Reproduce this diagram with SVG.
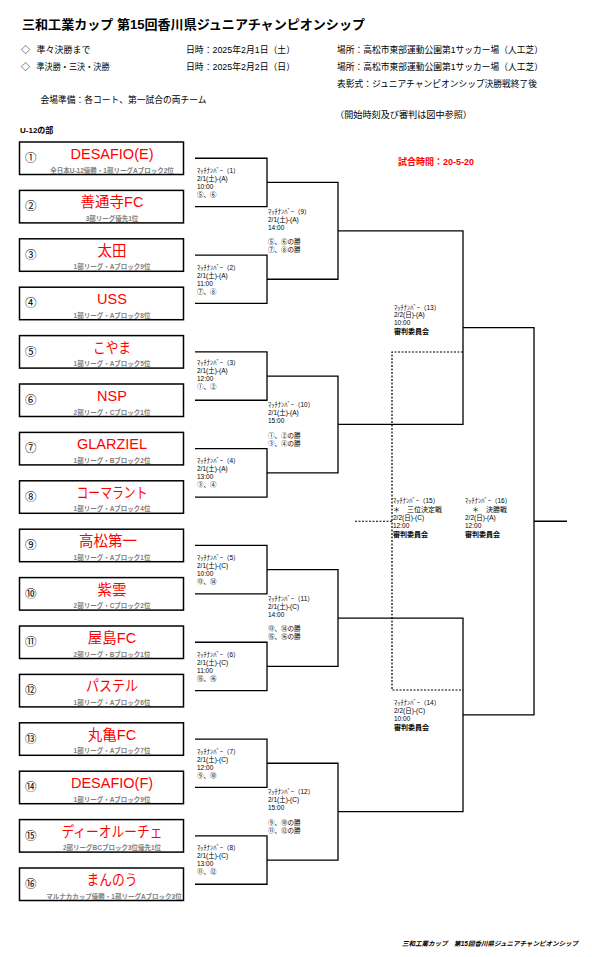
<svg xmlns="http://www.w3.org/2000/svg" width="592" height="957" viewBox="0 0 592 957">
<style>
text{font-family:"Liberation Sans","Noto Sans CJK JP",sans-serif;fill:#000}
.box{fill:#fff;stroke:#000;stroke-width:1.5}
.ln{fill:none;stroke:#000;stroke-width:1.3}
.dot{fill:none;stroke:#000;stroke-width:1.2;stroke-dasharray:2 1.5}
.h{font-size:9px}
.num{font-size:11.5px}
.nm{font-size:14.5px;fill:#ff0000;text-anchor:middle}
.sub{font-size:6.5px;fill:#808080;text-anchor:middle;font-weight:bold}
.ml{font-size:6.5px}
.mb{font-size:7px;font-weight:bold}
</style>
<rect width="592" height="957" fill="#fff"/>
<g id="header">
<text x="22" y="28.5" font-size="13" font-weight="bold" textLength="343" lengthAdjust="spacingAndGlyphs">三和工業カップ 第15回香川県ジュニアチャンピオンシップ</text>
<text class="h" x="21" y="52.5">◇</text>
<text class="h" x="36.5" y="52.5">準々決勝まで</text>
<text class="h" x="186" y="52.5" textLength="109" lengthAdjust="spacingAndGlyphs">日時：2025年2月1日（土）</text>
<text class="h" x="337" y="52.5" textLength="206" lengthAdjust="spacingAndGlyphs">場所：高松市東部運動公園第1サッカー場（人工芝）</text>
<text class="h" x="21" y="70">◇</text>
<text class="h" x="36.5" y="70" textLength="73" lengthAdjust="spacingAndGlyphs">準決勝・三決・決勝</text>
<text class="h" x="186" y="70" textLength="109" lengthAdjust="spacingAndGlyphs">日時：2025年2月2日（日）</text>
<text class="h" x="337" y="70" textLength="206" lengthAdjust="spacingAndGlyphs">場所：高松市東部運動公園第1サッカー場（人工芝）</text>
<text class="h" x="337" y="86.5" textLength="200" lengthAdjust="spacingAndGlyphs">表彰式：ジュニアチャンピオンシップ決勝戦終了後</text>
<text class="h" x="40.5" y="103" textLength="166" lengthAdjust="spacingAndGlyphs">会場準備：各コート、第一試合の両チーム</text>
<text class="h" x="335" y="117.5" textLength="137" lengthAdjust="spacingAndGlyphs">（開始時刻及び審判は図中参照）</text>
<text x="20" y="132.5" font-size="8" font-weight="bold">U-12の部</text>
<text x="398" y="165" font-size="9" font-weight="bold" style="fill:#ff0000">試合時間：20-5-20</text>
</g>
<g id="connectors">
<path class="ln" d="M195 158.25H267V206.65H195M195 255.05H267V303.45H195M195 351.85H267V400.25H195M195 448.65H267V497.05H195M195 545.45H267V593.85H195M195 642.25H267V690.65H195M195 739.05H267V787.45H195M195 835.85H267V884.25H195"/>
<path class="ln" d="M267 182.45H338V279.25H267M267 376.05H338V472.85H267M267 569.65H338V666.45H267M267 763.25H338V860.05H267"/>
<path class="ln" d="M338 230.85H463V424.45H338M338 618.05H463V811.65H338"/>
<path class="ln" d="M463 327.65H534V714.85H463M534 521.25H567"/>
<path class="dot" d="M463 352H392V690H463M392 521.25H354"/>
</g>
<g id="t1"><rect class="box" x="19.5" y="142" width="164" height="32.5"/><text class="num" x="25" y="162">①</text><text class="nm" x="112" y="159">DESAFIO(E)</text><text class="sub" x="112" y="172.5">全日本U-12優勝・1部リーグAブロック2位</text></g>
<g id="t2"><rect class="box" x="19.5" y="190.4" width="164" height="32.5"/><text class="num" x="25" y="210.4">②</text><text class="nm" x="112" y="207.4">善通寺FC</text><text class="sub" x="112" y="220.9">3部リーグ優先1位</text></g>
<g id="t3"><rect class="box" x="19.5" y="238.8" width="164" height="32.5"/><text class="num" x="25" y="258.8">③</text><text class="nm" x="112" y="255.8">太田</text><text class="sub" x="112" y="269.3">1部リーグ・Aブロック9位</text></g>
<g id="t4"><rect class="box" x="19.5" y="287.2" width="164" height="32.5"/><text class="num" x="25" y="307.2">④</text><text class="nm" x="112" y="304.2">USS</text><text class="sub" x="112" y="317.7">1部リーグ・Aブロック8位</text></g>
<g id="t5"><rect class="box" x="19.5" y="335.6" width="164" height="32.5"/><text class="num" x="25" y="355.6">⑤</text><text class="nm" x="112" y="352.6" textLength="38" lengthAdjust="spacingAndGlyphs">こやま</text><text class="sub" x="112" y="366.1">1部リーグ・Aブロック5位</text></g>
<g id="t6"><rect class="box" x="19.5" y="384" width="164" height="32.5"/><text class="num" x="25" y="404">⑥</text><text class="nm" x="112" y="401">NSP</text><text class="sub" x="112" y="414.5">2部リーグ・Cブロック1位</text></g>
<g id="t7"><rect class="box" x="19.5" y="432.4" width="164" height="32.5"/><text class="num" x="25" y="452.4">⑦</text><text class="nm" x="112" y="449.4">GLARZIEL</text><text class="sub" x="112" y="462.9">1部リーグ・Bブロック2位</text></g>
<g id="t8"><rect class="box" x="19.5" y="480.8" width="164" height="32.5"/><text class="num" x="25" y="500.8">⑧</text><text class="nm" x="112" y="497.8" textLength="71" lengthAdjust="spacingAndGlyphs">コーマラント</text><text class="sub" x="112" y="511.3">1部リーグ・Aブロック4位</text></g>
<g id="t9"><rect class="box" x="19.5" y="529.2" width="164" height="32.5"/><text class="num" x="25" y="549.2">⑨</text><text class="nm" x="108" y="546.2">高松第一</text><text class="sub" x="112" y="559.7">1部リーグ・Aブロック1位</text></g>
<g id="t10"><rect class="box" x="19.5" y="577.6" width="164" height="32.5"/><text class="num" x="25" y="597.6">⑩</text><text class="nm" x="112" y="594.6">紫雲</text><text class="sub" x="112" y="608.1">2部リーグ・Cブロック2位</text></g>
<g id="t11"><rect class="box" x="19.5" y="626" width="164" height="32.5"/><text class="num" x="25" y="646">⑪</text><text class="nm" x="112" y="643">屋島FC</text><text class="sub" x="112" y="656.5">2部リーグ・Bブロック1位</text></g>
<g id="t12"><rect class="box" x="19.5" y="674.4" width="164" height="32.5"/><text class="num" x="25" y="694.4">⑫</text><text class="nm" x="112" y="691.4" textLength="52" lengthAdjust="spacingAndGlyphs">パステル</text><text class="sub" x="112" y="704.9">1部リーグ・Aブロック6位</text></g>
<g id="t13"><rect class="box" x="19.5" y="722.8" width="164" height="32.5"/><text class="num" x="25" y="742.8">⑬</text><text class="nm" x="112" y="739.8">丸亀FC</text><text class="sub" x="112" y="753.3">1部リーグ・Aブロック7位</text></g>
<g id="t14"><rect class="box" x="19.5" y="771.2" width="164" height="32.5"/><text class="num" x="25" y="791.2">⑭</text><text class="nm" x="112" y="788.2">DESAFIO(F)</text><text class="sub" x="112" y="801.7">1部リーグ・Aブロック9位</text></g>
<g id="t15"><rect class="box" x="19.5" y="819.6" width="164" height="32.5"/><text class="num" x="25" y="839.6">⑮</text><text class="nm" x="112" y="836.6" textLength="101" lengthAdjust="spacingAndGlyphs">ディーオルーチェ</text><text class="sub" x="112" y="850.1">2部リーグBCブロック3位優先1位</text></g>
<g id="t16"><rect class="box" x="19.5" y="868" width="164" height="32.5"/><text class="num" x="25" y="888">⑯</text><text class="nm" x="112" y="885" textLength="51" lengthAdjust="spacingAndGlyphs">まんのう</text><text class="sub" x="114" y="898.5">マルナカカップ優勝・1部リーグAブロック3位</text></g>
<g id="m1" class="ml"><text x="197" y="172.8">ﾏｯﾁﾅﾝﾊﾞｰ（1）</text><text x="197" y="180.8">2/1(土)-(A)</text><text x="197" y="188.8">10:00</text><text x="197" y="196.8">⑤、⑥</text></g>
<g id="m2" class="ml"><text x="197" y="269.6">ﾏｯﾁﾅﾝﾊﾞｰ（2）</text><text x="197" y="277.6">2/1(土)-(A)</text><text x="197" y="285.6">11:00</text><text x="197" y="293.6">⑦、⑧</text></g>
<g id="m3" class="ml"><text x="197" y="365">ﾏｯﾁﾅﾝﾊﾞｰ（3）</text><text x="197" y="373">2/1(土)-(A)</text><text x="197" y="381">12:00</text><text x="197" y="389">①、②</text></g>
<g id="m4" class="ml"><text x="197" y="463.2">ﾏｯﾁﾅﾝﾊﾞｰ（4）</text><text x="197" y="471.2">2/1(土)-(A)</text><text x="197" y="479.2">13:00</text><text x="197" y="487.2">③、④</text></g>
<g id="m5" class="ml"><text x="197" y="560">ﾏｯﾁﾅﾝﾊﾞｰ（5）</text><text x="197" y="568">2/1(土)-(C)</text><text x="197" y="576">10:00</text><text x="197" y="584">⑬、⑭</text></g>
<g id="m6" class="ml"><text x="197" y="656.8">ﾏｯﾁﾅﾝﾊﾞｰ（6）</text><text x="197" y="664.8">2/1(土)-(C)</text><text x="197" y="672.8">11:00</text><text x="197" y="680.8">⑮、⑯</text></g>
<g id="m7" class="ml"><text x="197" y="753.6">ﾏｯﾁﾅﾝﾊﾞｰ（7）</text><text x="197" y="761.6">2/1(土)-(C)</text><text x="197" y="769.6">12:00</text><text x="197" y="777.6">⑨、⑩</text></g>
<g id="m8" class="ml"><text x="197" y="850.4">ﾏｯﾁﾅﾝﾊﾞｰ（8）</text><text x="197" y="858.4">2/1(土)-(C)</text><text x="197" y="866.4">13:00</text><text x="197" y="874.4">⑪、⑫</text></g>
<g id="m9" class="ml"><text x="268" y="213.5">ﾏｯﾁﾅﾝﾊﾞｰ（9）</text><text x="268" y="221.5">2/1(土)-(A)</text><text x="268" y="229.5">14:00</text><text x="268" y="244">⑤、⑥の勝</text><text x="268" y="252">⑦、⑧の勝</text></g>
<g id="m10" class="ml"><text x="268" y="407">ﾏｯﾁﾅﾝﾊﾞｰ（10）</text><text x="268" y="415">2/1(土)-(A)</text><text x="268" y="423">15:00</text><text x="268" y="437.5">①、②の勝</text><text x="268" y="445.5">③、④の勝</text></g>
<g id="m11" class="ml"><text x="268" y="600.7">ﾏｯﾁﾅﾝﾊﾞｰ（11）</text><text x="268" y="608.7">2/1(土)-(C)</text><text x="268" y="616.7">14:00</text><text x="268" y="631.2">⑬、⑭の勝</text><text x="268" y="639.2">⑮、⑯の勝</text></g>
<g id="m12" class="ml"><text x="268" y="794.3">ﾏｯﾁﾅﾝﾊﾞｰ（12）</text><text x="268" y="802.3">2/1(土)-(C)</text><text x="268" y="810.3">15:00</text><text x="268" y="824.8">⑨、⑩の勝</text><text x="268" y="832.8">⑪、⑫の勝</text></g>
<g id="m13" class="ml"><text x="394" y="309.5">ﾏｯﾁﾅﾝﾊﾞｰ（13）</text><text x="394" y="317">2/2(日)-(A)</text><text x="394" y="325">10:00</text><text class="mb" x="394" y="333.5">審判委員会</text></g>
<g id="m14" class="ml"><text x="394" y="705">ﾏｯﾁﾅﾝﾊﾞｰ（14）</text><text x="394" y="713">2/2(日)-(C)</text><text x="394" y="721">10:00</text><text class="mb" x="394" y="729.5">審判委員会</text></g>
<g id="m15" class="ml"><text x="393" y="502.5">ﾏｯﾁﾅﾝﾊﾞｰ（15）</text><text x="393" y="511.5" font-size="7">＊　三位決定戦</text><text x="393" y="520">2/2(日)-(C)</text><text x="393" y="528">12:00</text><text class="mb" x="393" y="536.5">審判委員会</text></g>
<g id="m16" class="ml"><text x="465" y="502.5">ﾏｯﾁﾅﾝﾊﾞｰ（16）</text><text x="465" y="511.5" font-size="7">　＊　決勝戦</text><text x="465" y="520">2/2(日)-(A)</text><text x="465" y="528">12:00</text><text class="mb" x="465" y="536.5">審判委員会</text></g>
<g id="footer"><text x="402" y="945.5" font-size="6.5" font-weight="bold" font-style="italic" textLength="176" lengthAdjust="spacingAndGlyphs">三和工業カップ　第15回香川県ジュニアチャンピオンシップ</text></g>
</svg>
